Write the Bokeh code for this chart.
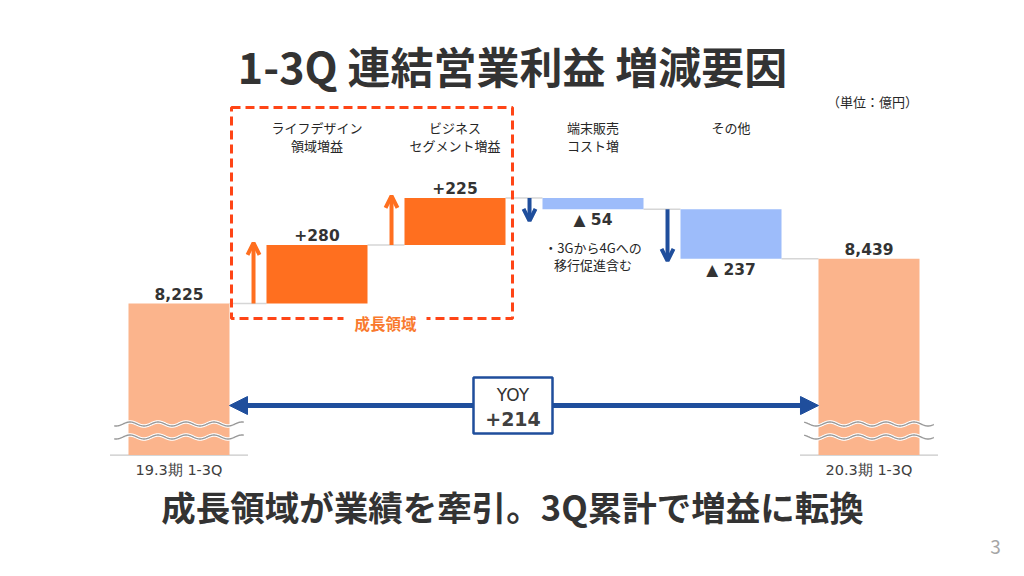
import numpy as np
from bokeh.plotting import figure
from bokeh.models import Range1d, Label, Arrow, OpenHead, NormalHead, BoxAnnotation, ColumnDataSource
from bokeh.core.properties import value
from bokeh.embed import file_html
from bokeh.resources import INLINE

# ---------------- data ----------------
categories = ["19.3期 1-3Q", "ライフデザイン\n領域増益", "ビジネス\nセグメント増益",
              "端末販売\nコスト増", "その他", "20.3期 1-3Q"]
start_total = 8225
changes = [280, 225, -54, -237]
end_total = 8439
value_labels = ["8,225", "+280", "+225", "▲ 54", "▲ 237", "8,439"]
yoy_text = ["YOY", "+214"]
note_lines = ["・3Gから4Gへの", "移行促進含む"]
group_label = "成長領域"
title_text = "1-3Q 連結営業利益 増減要因"
subtitle_text = "成長領域が業績を牽引。3Q累計で増益に転換"
unit_text = "（単位：億円）"
page_no = "3"

# ---------------- layout helpers ----------------
PITCH = 138.0      # px between categories
X0 = 178.5         # px of first category centre
KY = 0.209         # px per 億円
Y_ANCHOR = 303.0   # px of the start total
AXIS_FLOOR = 7500  # broken-axis floor
BAR_W = 0.732

JP = "Noto Sans CJK JP"
NUM = "DejaVu Sans"
DARK = "#333333"
NAVY = "#1F4E9C"
ORANGE = "#FF6F1F"
BLUE = "#9DBCFA"
PEACH = "#FBB48C"


def px2x(px):
    return (px - X0) / PITCH


def px2y(py):
    return start_total + (Y_ANCHOR - py) / KY


levels = [start_total]
for d in changes:
    levels.append(levels[-1] + d)

n = len(categories)
xs = list(range(n))
tops, bottoms, colors = [], [], []
for i in xs:
    if i == 0:
        tops.append(start_total); bottoms.append(AXIS_FLOOR); colors.append(PEACH)
    elif i == n - 1:
        tops.append(end_total); bottoms.append(AXIS_FLOOR); colors.append(PEACH)
    else:
        a, b = levels[i - 1], levels[i]
        tops.append(max(a, b)); bottoms.append(min(a, b))
        colors.append(ORANGE if b > a else BLUE)

p = figure(width=1008, height=560,
           x_range=Range1d(px2x(0), px2x(1008)),
           y_range=Range1d(px2y(560), px2y(0)),
           output_backend="svg", toolbar_location=None,
           x_axis_location=None, y_axis_location=None,
           min_border=0, outline_line_color=None)
p.grid.visible = False
p.background_fill_color = "white"
p.border_fill_color = "white"

# connectors
cx0, cx1, cy = [], [], []
for i in range(n - 1):
    cx0.append(i + BAR_W / 2); cx1.append(i + 1 - BAR_W / 2); cy.append(levels[i])
p.segment(x0=cx0, y0=cy, x1=cx1, y1=cy, line_color="#D6D6D6", line_width=1.5)

# baseline under the end bars
for i in (0, n - 1):
    p.segment(x0=[i - 0.5], y0=[AXIS_FLOOR], x1=[i + 0.5], y1=[AXIS_FLOOR],
              line_color="#C8C8C8", line_width=1.2)

src = ColumnDataSource(dict(x=xs, top=tops, bottom=bottoms, color=colors))
p.vbar(x="x", width=BAR_W, top="top", bottom="bottom", fill_color="color",
       line_color=None, source=src)

# wavy break marks
for i in (0, n - 1):
    wx = np.linspace(i - 0.47, i + 0.47, 300)
    for ypx in (423.5, 436.5):
        wy = px2y(ypx) + (2.0 / KY) * np.sin(2 * np.pi * (wx * PITCH) / 28.0)
        p.line(wx, wy, line_color="white", line_width=3.5)
        p.line(wx, wy, line_color="#9A9A9A", line_width=1.4)

# value labels
lab_y, lab_off = [], []
for i in xs:
    if i in (0, n - 1) or changes[i - 1] > 0:
        lab_y.append(tops[i]); lab_off.append(-10)
    else:
        lab_y.append(bottoms[i]); lab_off.append(11)
vsrc = ColumnDataSource(dict(x=xs, y=lab_y, off=lab_off, t=value_labels))
p.text(x="x", y="y", text="t", y_offset="off", source=vsrc, text_align="center",
       text_baseline="middle", text_font=value(NUM), text_font_style="bold",
       text_font_size="15.5px", text_color=DARK)

# arrows for changes
for k, d in enumerate(changes):
    i = k + 1
    a = levels[i - 1]
    length = max(abs(d), 100) + 10
    end = a + length if d > 0 else a - length
    col = ORANGE if d > 0 else NAVY
    p.add_layout(Arrow(x_start=i - 0.46, y_start=a, x_end=i - 0.46, y_end=end,
                       line_color=col, line_width=4,
                       end=OpenHead(size=12, line_color=col, line_width=4)))

# category labels (top)
for i in range(1, n - 1):
    for j, line in enumerate(categories[i].split("\n")):
        p.add_layout(Label(x=i, y=px2y(127 + 18 * j), text=line, text_align="center",
                           text_baseline="middle", text_font=JP, text_font_size="13px",
                           text_color="#262626"))

# end-bar x labels
for i in (0, n - 1):
    p.add_layout(Label(x=i, y=AXIS_FLOOR, y_offset=-15, text=categories[i],
                       text_align="center", text_baseline="middle", text_font=NUM,
                       text_font_size="14.5px", text_color="#404040"))

# note under 端末販売
for j, line in enumerate(note_lines):
    p.add_layout(Label(x=3, y=px2y(247 + 17 * j), text=line, text_align="center",
                       text_baseline="middle", text_font=JP, text_font_size="13px",
                       text_color="#262626"))

# dashed growth box
p.add_layout(BoxAnnotation(left=px2x(231), right=px2x(512), top=px2y(107), bottom=px2y(318),
                           fill_color=None, fill_alpha=0, line_color="#FF4516",
                           line_alpha=1, line_width=3, line_dash="9 5"))
p.add_layout(BoxAnnotation(left=px2x(343), right=px2x(426), top=px2y(312), bottom=px2y(326),
                           fill_color="white", fill_alpha=1, line_color=None))
p.add_layout(Label(x=px2x(385), y=px2y(322), text=group_label, text_align="center",
                   text_baseline="middle", text_font=JP, text_font_style="bold",
                   text_font_size="15.5px", text_color="#F97A2E"))

# YOY double arrow and box
yoy_y = px2y(405)
p.add_layout(Arrow(x_start=BAR_W / 2, y_start=yoy_y, x_end=n - 1 - BAR_W / 2, y_end=yoy_y,
                   line_color=NAVY, line_width=5,
                   start=NormalHead(size=18, fill_color=NAVY, line_color=NAVY),
                   end=NormalHead(size=18, fill_color=NAVY, line_color=NAVY)))
p.add_layout(BoxAnnotation(left=px2x(473), right=px2x(552), top=px2y(377), bottom=px2y(433),
                           fill_color="white", fill_alpha=1, line_color=NAVY,
                           line_alpha=1, line_width=2.5))
p.add_layout(Label(x=px2x(512.5), y=px2y(394), text=yoy_text[0], text_align="center",
                   text_baseline="middle", text_font=NUM, text_font_size="17px",
                   text_color=DARK))
p.add_layout(Label(x=px2x(512.5), y=px2y(418), text=yoy_text[1], text_align="center",
                   text_baseline="middle", text_font=NUM, text_font_style="bold",
                   text_font_size="19px", text_color="#404040"))

# titles and misc text
p.add_layout(Label(x=px2x(512), y=px2y(64), text=title_text, text_align="center",
                   text_baseline="middle", text_font=JP, text_font_style="bold",
                   text_font_size="43px", text_color=DARK))
p.add_layout(Label(x=px2x(512), y=px2y(505), text=subtitle_text, text_align="center",
                   text_baseline="middle", text_font=JP, text_font_style="bold",
                   text_font_size="34.5px", text_color=DARK))
p.add_layout(Label(x=px2x(872), y=px2y(101), text=unit_text, text_align="center",
                   text_baseline="middle", text_font=JP, text_font_size="13px",
                   text_color="#262626"))
p.add_layout(Label(x=px2x(995), y=px2y(546), text=page_no, text_align="center",
                   text_baseline="middle", text_font=JP, text_font_size="19px",
                   text_color="#A6A6A6"))

open("out.html", "w").write(file_html(p, INLINE))
